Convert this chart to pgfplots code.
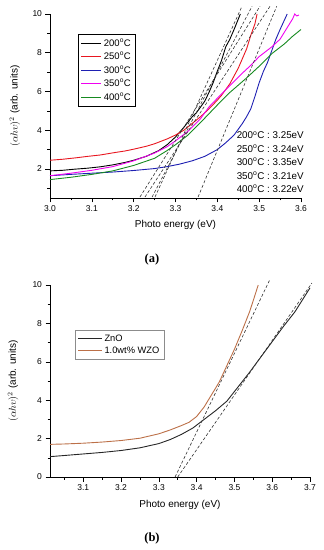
\documentclass[border=0pt]{standalone}
\usepackage{pgfplots}
\pgfplotsset{compat=1.18}
\usepackage{fontspec}
\setmainfont{Liberation Sans}
\newfontfamily\capfont{Liberation Serif}
\definecolor{cred}{RGB}{232,22,32}
\definecolor{cblue}{RGB}{30,32,178}
\definecolor{cmag}{RGB}{240,0,240}
\definecolor{cgreen}{RGB}{22,138,32}
\definecolor{cbrown}{RGB}{188,112,72}
\pgfplotsset{
  myaxis/.style={
    scale only axis, anchor=south west,
    axis x line*=bottom, axis y line*=left, axis line style={-},
    tick align=outside, major tick length=4.5pt, minor tick length=2.5pt,
    tick style={black, line width=0.5pt},
    /pgf/number format/assume math mode=true,
    tick label style={font=\fontsize{8.5}{10}\selectfont},
    xticklabel style={/pgf/number format/.cd, fixed, fixed zerofill, precision=1},
    yticklabel style={/pgf/number format/.cd, fixed, precision=0},
    ytick={0,2,4,6,8,10}, minor ytick={1,3,5,7,9},
    label style={font=\fontsize{10.8}{12}\selectfont},
    xlabel={Photo energy (eV)},
    ylabel={$(\alpha h\upsilon)^2$ (arb. units)},
    legend cell align=left,
    clip=false,
  },
  tang/.style={black!80, line width=0.6pt, dash pattern=on 3pt off 2pt},
}
\begin{document}
\begin{tikzpicture}
\path[use as bounding box] (0,0) rectangle (324pt,550pt);
% ---------------- (a)
\begin{axis}[myaxis,
  at={(50pt,352pt)}, width=251pt, height=184pt,
  xmin=3.0, xmax=3.6, ymin=0.5, ymax=10,
  xtick={3.0,3.1,3.2,3.3,3.4,3.5,3.6},
  minor xtick={3.05,3.15,3.25,3.35,3.45,3.55},
  every axis x label/.style={at={(axis description cs:0.5,-0.147)}, anchor=center},
  every axis y label/.style={at={(axis description cs:-0.14,0.5)}, rotate=90, anchor=center},
  legend style={at={(rel axis cs:0.112,0.891)}, anchor=north west, draw=black,
    font=\fontsize{9.5}{11}\selectfont, row sep=0.6pt, inner sep=2.5pt},
  legend image code/.code={\draw[#1, line width=1.1pt] (0pt,0pt) -- (20pt,0pt);},
]
\addplot[black, line width=0.9pt] coordinates {
(3.00,1.90) (3.03,1.93) (3.06,1.99) (3.09,2.04) (3.12,2.11) (3.15,2.21) (3.18,2.34)
(3.20,2.45) (3.23,2.65) (3.26,2.95) (3.28,3.25) (3.30,3.65) (3.32,4.15) (3.34,4.70)
(3.35,4.90) (3.36,5.20) (3.37,5.50) (3.38,5.95) (3.39,6.45) (3.40,7.05) (3.41,7.60)
(3.42,8.30) (3.43,8.70) (3.44,9.20) (3.455,10.0)};
\addlegendentry{200\textsuperscript{o}C}
\addplot[cred, line width=0.9pt] coordinates {
(3.00,2.45) (3.03,2.50) (3.06,2.57) (3.09,2.65) (3.12,2.72) (3.15,2.83) (3.18,2.93)
(3.20,3.02) (3.23,3.17) (3.25,3.30) (3.28,3.55) (3.30,3.75) (3.32,4.00) (3.34,4.35)
(3.36,4.70) (3.38,5.10) (3.40,5.55) (3.41,5.80) (3.42,6.10) (3.43,6.40) (3.44,6.80)
(3.45,7.20) (3.46,7.70) (3.47,8.20) (3.48,8.90) (3.49,9.50) (3.495,10.0)};
\addlegendentry{250\textsuperscript{o}C}
\addplot[cblue, line width=0.9pt] coordinates {
(3.00,1.65) (3.05,1.72) (3.10,1.78) (3.15,1.84) (3.20,1.92) (3.25,2.02) (3.28,2.12)
(3.31,2.25) (3.34,2.42) (3.37,2.65) (3.40,3.00) (3.42,3.35) (3.44,3.75) (3.46,4.35)
(3.47,4.70) (3.48,5.10) (3.49,5.75) (3.50,6.45) (3.51,7.03) (3.52,7.50) (3.53,8.10)
(3.54,8.70) (3.55,9.20) (3.567,10.0)};
\addlegendentry{300\textsuperscript{o}C}
\addplot[cmag, line width=0.9pt] coordinates {
(3.00,1.65) (3.05,1.78) (3.10,1.93) (3.15,2.12) (3.20,2.42) (3.25,2.82) (3.28,3.15)
(3.30,3.45) (3.33,3.95) (3.36,4.60) (3.38,5.20) (3.40,5.65) (3.43,6.30) (3.46,6.95)
(3.48,7.35) (3.50,7.80) (3.53,8.30) (3.55,8.70) (3.56,9.05) (3.57,9.40) (3.58,9.75)
(3.585,10.0) (3.59,9.90) (3.595,9.95)};
\addlegendentry{350\textsuperscript{o}C}
\addplot[cgreen, line width=0.9pt] coordinates {
(3.00,1.45) (3.05,1.57) (3.10,1.72) (3.15,1.90) (3.20,2.18) (3.25,2.55) (3.28,2.95)
(3.30,3.25) (3.33,3.75) (3.36,4.40) (3.38,4.85) (3.40,5.30) (3.43,5.95) (3.47,6.70)
(3.50,7.30) (3.53,7.95) (3.56,8.45) (3.58,8.85) (3.60,9.20)};
\addlegendentry{400\textsuperscript{o}C}
\addplot[tang, forget plot] coordinates {(3.251,0.55) (3.459,10.4)};
\addplot[tang, forget plot] coordinates {(3.244,0.55) (3.483,10.4)};
\addplot[tang, forget plot] coordinates {(3.215,0.55) (3.502,10.4)};
\addplot[tang, forget plot] coordinates {(3.227,0.55) (3.526,10.4)};
\addplot[tang, forget plot] coordinates {(3.354,0.55) (3.542,10.4)};
\begin{scope}[every node/.style={anchor=east, font=\fontsize{9.8}{11}\selectfont}]
\node at (rel axis cs:1.025,0.342) {200\textsuperscript{o}C : 3.25eV};
\node at (rel axis cs:1.025,0.269) {250\textsuperscript{o}C : 3.24eV};
\node at (rel axis cs:1.025,0.196) {300\textsuperscript{o}C : 3.35eV};
\node at (rel axis cs:1.025,0.122) {350\textsuperscript{o}C : 3.21eV};
\node at (rel axis cs:1.025,0.049) {400\textsuperscript{o}C : 3.22eV};
\end{scope}
\end{axis}
\node[font=\capfont\bfseries\fontsize{12.5}{14}\selectfont] at (152pt,291pt) {(a)};
% ---------------- (b)
\begin{axis}[myaxis,
  at={(50pt,73pt)}, width=260pt, height=192pt,
  xmin=3.012, xmax=3.7, ymin=0, ymax=10,
  xtick={3.1,3.2,3.3,3.4,3.5,3.6,3.7},
  minor xtick={3.05,3.15,3.25,3.35,3.45,3.55,3.65},
  every axis x label/.style={at={(axis description cs:0.5,-0.146)}, anchor=center},
  every axis y label/.style={at={(axis description cs:-0.142,0.5)}, rotate=90, anchor=center},
  legend style={at={(rel axis cs:0.096,0.766)}, anchor=north west, draw=black!45,
    font=\fontsize{9.3}{11}\selectfont, row sep=0.2pt, inner sep=2.5pt},
  legend image code/.code={\draw[#1, line width=0.9pt] (0pt,0pt) -- (24pt,0pt);},
]
\addplot[black!85, line width=0.9pt] coordinates {
(3.012,1.06) (3.05,1.12) (3.10,1.20) (3.15,1.28) (3.20,1.38) (3.25,1.52) (3.30,1.74)
(3.33,1.95) (3.36,2.22) (3.39,2.55) (3.42,3.00) (3.45,3.45) (3.48,3.95) (3.51,4.70)
(3.54,5.45) (3.57,6.25) (3.60,7.05) (3.63,7.85) (3.66,8.60) (3.70,9.85)};
\addlegendentry{ZnO}
\addplot[cbrown, line width=0.9pt] coordinates {
(3.012,1.70) (3.05,1.72) (3.10,1.76) (3.15,1.82) (3.20,1.90) (3.25,2.02) (3.30,2.25)
(3.33,2.45) (3.36,2.68) (3.38,2.85) (3.40,3.15) (3.42,3.65) (3.44,4.30) (3.46,4.95)
(3.48,5.80) (3.50,6.65) (3.52,7.60) (3.54,8.60) (3.55,9.20) (3.563,10.0)};
\addlegendentry{1.0wt\% WZO}
\addplot[tang, forget plot] coordinates {(3.343,0) (3.593,10.25)};
\addplot[tang, forget plot] coordinates {(3.350,0) (3.705,10.1)};
\end{axis}
\node[font=\capfont\bfseries\fontsize{12.5}{14}\selectfont] at (152pt,12pt) {(b)};
\end{tikzpicture}
\end{document}
